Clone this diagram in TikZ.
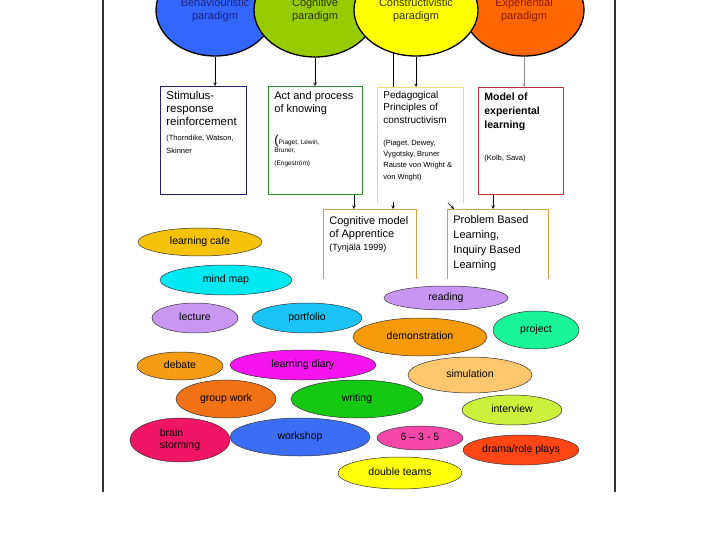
\documentclass[tikz,border=0pt]{standalone}
\usepackage{fontspec}
\setmainfont{Liberation Sans}
\usetikzlibrary{positioning,shapes.geometric,backgrounds}
\definecolor{framec}   {HTML}{333333}
\definecolor{behfill}  {HTML}{3366FF}
\definecolor{cogfill}  {HTML}{99CC00}
\definecolor{yelfill}  {HTML}{FFFF00}
\definecolor{expfill}  {HTML}{FF6600}
\definecolor{behtext}  {HTML}{1A237E}
\definecolor{cogtext}  {HTML}{2B3300}
\definecolor{yeltext}  {HTML}{333300}
\definecolor{exptext}  {HTML}{8B1A00}
\definecolor{boxnavy}  {HTML}{1F2070}
\definecolor{boxgreen} {HTML}{2E8B2E}
\definecolor{boxyellow}{HTML}{E8E070}
\definecolor{boxred}   {HTML}{C0303A}
\definecolor{boxgold}  {HTML}{C9A44A}
\newcommand\refsize{\normalfont\fontsize{7.5}{11}\selectfont}
\newcommand\tinyref{\normalfont\fontsize{6.5}{8}\selectfont}
\tikzset{
  >=stealth,
  % --- nodes
  para/.style = {ellipse, draw=black, line width=1.3pt, inner sep=0pt, align=center,
                 font=\fontsize{11}{13.5}\selectfont},
  meth/.style = {ellipse, draw=black!80, line width=0.5pt, inner sep=0pt, align=flush left,
                 text height=7.6pt, text depth=2.2pt, font=\fontsize{10.5}{12.5}\selectfont},
  pbox/.style = {rectangle, fill=white, anchor=north west, align=flush left, inner xsep=6pt,
                 inner ysep=0pt, line width=0.8pt, font=\fontsize{11}{13}\selectfont},
  % --- edges
  e/.style    = {->, line width=0.6pt, draw=black},
}
\begin{document}
\begin{tikzpicture}[x=1pt, y=-1pt]
  \useasboundingbox (0,0) rectangle (720,540);
  \begin{scope}[on background layer]
    \fill[white] (0,0) rectangle (720,540);
  \end{scope}
  \draw[framec, line width=1.3pt] (103,0) -- (103,492) (615,0) -- (615,492);

  % paradigms
  \node[para, fill=behfill, text=behtext, minimum width=118pt, minimum height=92pt] (beh) at (215,10)
    {Behaviouristic\\paradigm};
  \node[para, fill=cogfill, text=cogtext, minimum width=122pt, minimum height=94pt] (cog) at (315,10)
    {Cognitive\\paradigm};
  \node[para, fill=expfill, text=exptext, minimum width=120pt, minimum height=92pt] (exp) at (524,10)
    {Experiential\\paradigm};
  \node[para, fill=yelfill, text=yeltext, minimum width=124pt, minimum height=92pt] (yel) at (416,10)
    {Constructivistic\\paradigm};

  % models
  \node[pbox, draw=boxnavy, text width=74pt, text height=13pt, text depth=95pt,
        font=\fontsize{11.5}{13}\selectfont] (b1) at (160,86)
    {Stimulus-\\response\\reinforcement\par\vspace{4pt}\refsize(Thorndike, Watson,\\Skinner};
  \node[pbox, draw=boxgreen, text width=82pt, text height=13pt, text depth=95pt] (b2) at (268,86)
    {Act and process\\of knowing\par\vspace{24pt}\tinyref\smash{\fontsize{13}{13}\selectfont(}Piaget, Lewin,\\Bruner,\\(Engeström)};
  \node[pbox, text width=74pt, text height=11pt, text depth=104pt,
        font=\fontsize{10}{12.5}\selectfont] (b3) at (377,87)
    {Pedagogical\\Principles of\\constructivism\par\vspace{11pt}\refsize(Piaget, Dewey,\\Vygotsky, Bruner\\Rauste von Wright \&\\von Wright)};
  \draw[boxyellow, line width=0.8pt] (b3.south west) -- (b3.north west) -- (b3.north east) -- (b3.south east);
  \node[pbox, draw=boxred, text width=73pt, text height=13pt, text depth=94pt,
        font=\fontsize{10.5}{14}\selectfont\bfseries] (b4) at (478,87)
    {Model of\\experiental\\learning\par\vspace{18pt}\refsize(Kolb, Sava)};

  \node[pbox, text width=81pt, text height=15pt, text depth=54pt] (cm) at (323,209)
    {Cognitive model\\of Apprentice\par\vspace{0.5pt}\normalfont\fontsize{9}{12}\selectfont(Tynjälä 1999)};
  \draw[boxgold, line width=0.8pt] (cm.south west) -- (cm.north west) -- (cm.north east) -- (cm.south east);
  \node[pbox, text width=89pt, text height=14pt, text depth=55pt,
        font=\fontsize{11}{15}\selectfont] (pbl) at (447,209)
    {Problem Based\\Learning,\\Inquiry Based\\Learning};
  \draw[boxgold, line width=0.8pt] (pbl.south west) -- (pbl.north west) -- (pbl.north east) -- (pbl.south east);

  % connectors
  \coordinate (yl) at ([xshift=-23pt]yel.center);
  \coordinate (k2) at ([xshift=-9pt]b2.south east);
  \coordinate (k4) at ([xshift=15pt]b4.south west);
  \begin{scope}[on background layer]
    \draw[e] (beh) -- (beh |- b1.north);
    \draw[e] (cog) -- (cog |- b2.north);
    \draw[e] (yel) -- (yel |- b3.north);
    \draw[e] (yl) -- (yl |- cm.north);
    \draw[e, draw=black!45] (exp) -- (exp |- b4.north);
    \draw[e] (k2) -- (k2 |- cm.north);
    \draw[e] ([xshift=-16pt]b3.south east) -- ([xshift=7pt]pbl.north west);
    \draw[e] (k4) -- (k4 |- pbl.north);
  \end{scope}

  % methods
  \node[meth, fill={rgb,255:red,245;green,194;blue,10}, minimum width=124pt, minimum height=28pt] (cafe) at (200,242) {learning cafe};
  \node[meth, fill={rgb,255:red,0;green,232;blue,240}, minimum width=132pt, minimum height=30pt] (mind) at (226,280) {mind map};
  \node[meth, fill={rgb,255:red,201;green,151;blue,242}, minimum width=86pt, minimum height=30pt] (lect) at (195,318) {lecture};
  \node[meth, fill={rgb,255:red,25;green,195;blue,245}, minimum width=110pt, minimum height=30pt] (port) at (307,318) {portfolio};
  \node[meth, fill={rgb,255:red,200;green,150;blue,242}, minimum width=124pt, minimum height=24pt] (read) at (446,298) {reading};
  \node[meth, fill={rgb,255:red,245;green,155;blue,10}, minimum width=134pt, minimum height=38pt] (demo) at (420,337) {demonstration};
  \node[meth, fill={rgb,255:red,25;green,245;blue,155}, minimum width=86pt, minimum height=38pt] (proj) at (536,330) {project};
  \node[meth, fill={rgb,255:red,255;green,200;blue,110}, minimum width=124pt, minimum height=36pt] (simu) at (470,375) {simulation};
  \node[meth, fill={rgb,255:red,245;green,155;blue,20}, minimum width=86pt, minimum height=28pt] (deb) at (180,366) {debate};
  \node[meth, fill={rgb,255:red,245;green,20;blue,240}, minimum width=146pt, minimum height=30pt] (diary) at (303,365) {learning diary};
  \node[meth, fill={rgb,255:red,240;green,114;blue,20}, minimum width=100pt, minimum height=38pt] (grp) at (226,399) {group work};
  \node[meth, fill={rgb,255:red,20;green,200;blue,20}, minimum width=132pt, minimum height=38pt] (writ) at (357,399) {writing};
  \node[meth, fill={rgb,255:red,240;green,20;blue,100}, minimum width=100pt, minimum height=44pt,
        text height=20.1pt] (brain) at (180,440) {brain\\storming};
  \node[meth, fill={rgb,255:red,60;green,110;blue,245}, minimum width=140pt, minimum height=38pt] (work) at (300,437) {workshop};
  \node[meth, fill={rgb,255:red,245;green,70;blue,170}, minimum width=86pt, minimum height=24pt] (six) at (420,438) {6 – 3 - 5};
  \node[meth, fill={rgb,255:red,255;green,255;blue,10}, minimum width=124pt, minimum height=32pt] (dbl) at (400,473) {double teams};
  \node[meth, fill={rgb,255:red,204;green,240;blue,60}, minimum width=100pt, minimum height=30pt] (intv) at (512,410) {interview};
  \node[meth, fill={rgb,255:red,255;green,70;blue,20}, minimum width=116pt, minimum height=30pt] (drama) at (521,450) {drama/role plays};
\end{tikzpicture}
\end{document}
